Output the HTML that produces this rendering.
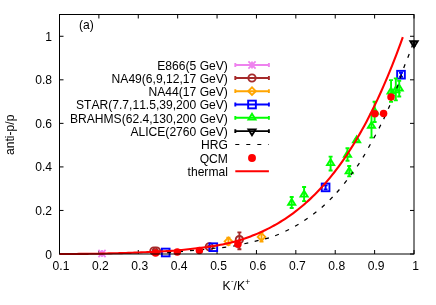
<!DOCTYPE html><html><head><meta charset="utf-8"><style>html,body{margin:0;padding:0;background:#fff}svg{display:block;will-change:transform;opacity:0.999}text{font-family:"Liberation Sans",sans-serif;font-size:12.1px;fill:#000;font-kerning:none}</style></head><body>
<svg width="436" height="305" viewBox="0 0 436 305">
<rect width="436" height="305" fill="#fff"/>
<path d="M59.50 254.0v-4M59.50 14.5v4M98.89 254.0v-4M98.89 14.5v4M138.28 254.0v-4M138.28 14.5v4M177.67 254.0v-4M177.67 14.5v4M217.06 254.0v-4M217.06 14.5v4M256.44 254.0v-4M256.44 14.5v4M295.83 254.0v-4M295.83 14.5v4M335.22 254.0v-4M335.22 14.5v4M374.61 254.0v-4M374.61 14.5v4M414.00 254.0v-4M414.00 14.5v4M59.5 254.00h4M414.0 254.00h-4M59.5 210.45h4M414.0 210.45h-4M59.5 166.91h4M414.0 166.91h-4M59.5 123.36h4M414.0 123.36h-4M59.5 79.82h4M414.0 79.82h-4M59.5 36.27h4M414.0 36.27h-4" stroke="#000" stroke-width="1" fill="none"/>
<text x="61.00" y="270.4" text-anchor="middle">0.1</text>
<text x="100.39" y="270.4" text-anchor="middle">0.2</text>
<text x="139.78" y="270.4" text-anchor="middle">0.3</text>
<text x="179.17" y="270.4" text-anchor="middle">0.4</text>
<text x="218.56" y="270.4" text-anchor="middle">0.5</text>
<text x="257.94" y="270.4" text-anchor="middle">0.6</text>
<text x="297.33" y="270.4" text-anchor="middle">0.7</text>
<text x="336.72" y="270.4" text-anchor="middle">0.8</text>
<text x="376.11" y="270.4" text-anchor="middle">0.9</text>
<text x="415.50" y="270.4" text-anchor="middle">1</text>
<text x="52" y="258.50" text-anchor="end">0</text>
<text x="52" y="214.95" text-anchor="end">0.2</text>
<text x="52" y="171.41" text-anchor="end">0.4</text>
<text x="52" y="127.86" text-anchor="end">0.6</text>
<text x="52" y="84.32" text-anchor="end">0.8</text>
<text x="52" y="40.77" text-anchor="end">1</text>
<text x="79" y="28.5">(a)</text>
<text transform="translate(14,134.8) rotate(-90)" text-anchor="middle">anti-p/p</text>
<text x="222.5" y="289.5">K</text><text x="230.9" y="282.8" style="font-size:8px">-</text><text x="233.5" y="289.5">/</text><text x="237.1" y="289.5">K</text><text x="245.3" y="285.3" style="font-size:8.5px">+</text>
<text x="227.9" y="69.75" text-anchor="end">E866(5 GeV)</text>
<text x="227.9" y="82.75" text-anchor="end">NA49(6,9,12,17 GeV)</text>
<text x="227.9" y="95.95" text-anchor="end">NA44(17 GeV)</text>
<text x="227.9" y="109.25" text-anchor="end">STAR(7.7,11.5,39,200 GeV)</text>
<text x="227.9" y="122.55" text-anchor="end">BRAHMS(62.4,130,200 GeV)</text>
<text x="227.9" y="135.90" text-anchor="end">ALICE(2760 GeV)</text>
<text x="227.9" y="149.25" text-anchor="end">HRG</text>
<text x="227.9" y="162.70" text-anchor="end">QCM</text>
<text x="227.9" y="176.00" text-anchor="end">thermal</text>
<path d="M235.3 65.00H268.9M235.3 63.10v3.8M268.9 63.10v3.8" stroke="#ee82ee" stroke-width="1.9" fill="none"/>
<path d="M248.40 65.00h7.2M252.00 61.40v7.2M248.40 61.40l7.2 7.2M248.40 68.60l7.2 -7.2" stroke="#ee82ee" stroke-width="1.8" fill="none"/>
<path d="M98.40 253.50h7.2M102.00 249.90v7.2M98.40 249.90l7.2 7.2M98.40 257.10l7.2 -7.2" stroke="#ee82ee" stroke-width="1.8" fill="none"/>
<path d="M235.3 78.00H268.9M235.3 76.10v3.8M268.9 76.10v3.8" stroke="#a52a2a" stroke-width="1.9" fill="none"/>
<circle cx="252.00" cy="78.00" r="3.65" stroke="#a52a2a" stroke-width="1.9" fill="none"/>
<path d="M153.90 250.30V251.70M151.90 250.30h4.0M151.90 251.70h4.0" stroke="#a52a2a" stroke-width="1.9" fill="none"/>
<circle cx="153.90" cy="251.00" r="3.65" stroke="#a52a2a" stroke-width="1.9" fill="none"/>
<path d="M156.50 250.30V251.70M154.50 250.30h4.0M154.50 251.70h4.0" stroke="#a52a2a" stroke-width="1.9" fill="none"/>
<circle cx="156.50" cy="251.00" r="3.65" stroke="#a52a2a" stroke-width="1.9" fill="none"/>
<path d="M209.30 246.00V247.60M207.30 246.00h4.0M207.30 247.60h4.0" stroke="#a52a2a" stroke-width="1.9" fill="none"/>
<circle cx="209.30" cy="246.80" r="3.65" stroke="#a52a2a" stroke-width="1.9" fill="none"/>
<path d="M239.40 232.40V249.30M237.40 232.40h4.0M237.40 249.30h4.0" stroke="#a52a2a" stroke-width="1.9" fill="none"/>
<circle cx="239.40" cy="239.60" r="3.65" stroke="#a52a2a" stroke-width="1.9" fill="none"/>
<path d="M235.3 91.20H268.9M235.3 89.30v3.8M268.9 89.30v3.8" stroke="#ffa500" stroke-width="1.9" fill="none"/>
<path d="M248.20 91.20L252.00 87.40L255.80 91.20L252.00 95.00Z" stroke="#ffa500" stroke-width="1.9" fill="none"/>
<path d="M228.40 237.80V244.80M226.40 237.80h4.0M226.40 244.80h4.0" stroke="#ffa500" stroke-width="1.9" fill="none"/>
<path d="M224.60 241.30L228.40 237.50L232.20 241.30L228.40 245.10Z" stroke="#ffa500" stroke-width="1.9" fill="none"/>
<path d="M261.50 232.60V241.60M259.50 232.60h4.0M259.50 241.60h4.0" stroke="#ffa500" stroke-width="1.9" fill="none"/>
<path d="M257.70 236.90L261.50 233.10L265.30 236.90L261.50 240.70Z" stroke="#ffa500" stroke-width="1.9" fill="none"/>
<path d="M235.3 104.50H268.9M235.3 102.60v3.8M268.9 102.60v3.8" stroke="#0000ff" stroke-width="1.9" fill="none"/>
<rect x="248.15" y="100.65" width="7.7" height="7.7" stroke="#0000ff" stroke-width="1.9" fill="none"/>
<rect x="161.85" y="248.65" width="7.7" height="7.7" stroke="#0000ff" stroke-width="1.9" fill="none"/>
<rect x="209.45" y="243.35" width="7.7" height="7.7" stroke="#0000ff" stroke-width="1.9" fill="none"/>
<path d="M325.60 185.40V189.40M323.60 185.40h4.0M323.60 189.40h4.0" stroke="#0000ff" stroke-width="1.9" fill="none"/>
<rect x="321.75" y="183.55" width="7.7" height="7.7" stroke="#0000ff" stroke-width="1.9" fill="none"/>
<path d="M401.00 72.70V76.70M399.00 72.70h4.0M399.00 76.70h4.0" stroke="#0000ff" stroke-width="1.9" fill="none"/>
<rect x="397.15" y="70.85" width="7.7" height="7.7" stroke="#0000ff" stroke-width="1.9" fill="none"/>
<path d="M235.3 117.80H268.9M235.3 115.90v3.8M268.9 115.90v3.8" stroke="#00ff00" stroke-width="1.9" fill="none"/>
<path d="M252.00 113.82L248.45 119.58H255.55Z" stroke="#00ff00" stroke-width="1.9" fill="none"/>
<path d="M291.70 197.00V208.00M289.70 197.00h4.0M289.70 208.00h4.0" stroke="#00ff00" stroke-width="1.9" fill="none"/>
<path d="M291.70 199.02L288.15 204.78H295.25Z" stroke="#00ff00" stroke-width="1.9" fill="none"/>
<path d="M304.10 187.00V201.10M302.10 187.00h4.0M302.10 201.10h4.0" stroke="#00ff00" stroke-width="1.9" fill="none"/>
<path d="M304.10 190.82L300.55 196.58H307.65Z" stroke="#00ff00" stroke-width="1.9" fill="none"/>
<path d="M330.60 156.60V170.50M328.60 156.60h4.0M328.60 170.50h4.0" stroke="#00ff00" stroke-width="1.9" fill="none"/>
<path d="M330.60 159.32L327.05 165.08H334.15Z" stroke="#00ff00" stroke-width="1.9" fill="none"/>
<path d="M349.20 166.00V176.40M347.20 166.00h4.0M347.20 176.40h4.0" stroke="#00ff00" stroke-width="1.9" fill="none"/>
<path d="M349.20 167.62L345.65 173.38H352.75Z" stroke="#00ff00" stroke-width="1.9" fill="none"/>
<path d="M347.50 148.30V160.70M345.50 148.30h4.0M345.50 160.70h4.0" stroke="#00ff00" stroke-width="1.9" fill="none"/>
<path d="M347.50 151.02L343.95 156.78H351.05Z" stroke="#00ff00" stroke-width="1.9" fill="none"/>
<path d="M356.60 139.00V142.00M354.60 139.00h4.0M354.60 142.00h4.0" stroke="#00ff00" stroke-width="1.9" fill="none"/>
<path d="M356.60 136.42L353.05 142.18H360.15Z" stroke="#00ff00" stroke-width="1.9" fill="none"/>
<path d="M371.50 114.40V137.60M369.50 114.40h4.0M369.50 137.60h4.0" stroke="#00ff00" stroke-width="1.9" fill="none"/>
<path d="M371.50 122.02L367.95 127.78H375.05Z" stroke="#00ff00" stroke-width="1.9" fill="none"/>
<path d="M374.60 101.80V122.00M372.60 101.80h4.0M372.60 122.00h4.0" stroke="#00ff00" stroke-width="1.9" fill="none"/>
<path d="M374.60 107.92L371.05 113.68H378.15Z" stroke="#00ff00" stroke-width="1.9" fill="none"/>
<path d="M391.05 80.10V101.90M389.05 80.10h4.0M389.05 101.90h4.0" stroke="#00ff00" stroke-width="1.9" fill="none"/>
<path d="M391.05 87.72L387.50 93.48H394.60Z" stroke="#00ff00" stroke-width="1.9" fill="none"/>
<path d="M395.80 78.40V100.40M393.80 78.40h4.0M393.80 100.40h4.0" stroke="#00ff00" stroke-width="1.9" fill="none"/>
<path d="M395.80 86.62L392.25 92.38H399.35Z" stroke="#00ff00" stroke-width="1.9" fill="none"/>
<path d="M399.20 80.70V96.50M397.20 80.70h4.0M397.20 96.50h4.0" stroke="#00ff00" stroke-width="1.9" fill="none"/>
<path d="M399.20 84.72L395.65 90.48H402.75Z" stroke="#00ff00" stroke-width="1.9" fill="none"/>
<path d="M235.3 131.15H268.9M235.3 129.25v3.8M268.9 129.25v3.8" stroke="#000" stroke-width="1.9" fill="none"/>
<path d="M252.00 135.13L248.45 129.38H255.55Z" stroke="#000" stroke-width="1.9" fill="none"/>
<path d="M414.00 41.80V45.60M412.20 41.80h3.6M412.20 45.60h3.6" stroke="#000" stroke-width="1.9" fill="none"/>
<path d="M414.00 47.24L410.30 41.25H417.70Z" stroke="#000" stroke-width="1.9" fill="none"/>
<path d="M235.3 144.50H268.9" stroke="#000" stroke-width="1" stroke-dasharray="4 7" fill="none"/>
<path d="M167.10 252.51L171.10 252.29M179.01 251.66L182.99 251.34M190.01 250.69L193.99 250.31M200.31 249.70L204.29 249.30M211.51 248.50L215.49 248.10M222.21 247.53L226.19 247.07M233.23 246.04L237.17 245.36M244.35 243.74L248.25 242.86M254.65 241.36L258.55 240.44M265.08 238.94L268.92 237.86M275.14 235.72L278.86 234.28M285.40 231.28L289.00 229.52M295.07 226.31L298.53 224.29M304.35 220.53L307.65 218.27M313.22 214.22L316.38 211.78M321.70 207.43L324.70 204.77M329.80 199.83L332.60 196.97M336.78 192.50L339.42 189.50M344.26 183.57L346.74 180.43M350.81 175.00L353.19 171.80M357.18 166.45L359.42 163.15M362.98 157.42L365.02 153.98M368.43 147.75L370.37 144.25M373.75 138.26L375.65 134.74M378.99 128.38L380.81 124.82M383.65 119.11L385.35 115.49M388.31 108.84L389.89 105.16M392.55 98.65L394.05 94.95M396.71 88.38L398.09 84.62M400.25 78.19L401.55 74.41M403.70 67.97L405.10 64.23M407.78 57.77L409.22 54.03M411.63 47.48L412.97 43.72" stroke="#000" stroke-width="1.25" fill="none"/>
<circle cx="252.00" cy="157.95" r="3.95" fill="#ff0000"/>
<circle cx="155.60" cy="252.90" r="3.75" fill="#ff0000"/>
<circle cx="177.30" cy="252.00" r="3.75" fill="#ff0000"/>
<circle cx="199.40" cy="250.40" r="3.75" fill="#ff0000"/>
<circle cx="237.90" cy="244.30" r="3.75" fill="#ff0000"/>
<circle cx="374.90" cy="113.80" r="3.75" fill="#ff0000"/>
<circle cx="383.60" cy="113.40" r="3.75" fill="#ff0000"/>
<circle cx="391.00" cy="96.90" r="3.75" fill="#ff0000"/>
<path d="M235.3 171.25H268.9" stroke="#ff0000" stroke-width="1.95" fill="none"/>
<path d="M59.50 254.00L61.65 254.00L63.79 253.99L65.94 253.99L68.08 253.98L70.23 253.97L72.37 253.96L74.52 253.95L76.67 253.94L78.81 253.92L80.96 253.91L83.10 253.89L85.25 253.87L87.39 253.85L89.54 253.82L91.69 253.80L93.83 253.77L95.98 253.74L98.12 253.71L100.27 253.67L102.41 253.60L104.56 253.53L106.71 253.47L108.85 253.42L111.00 253.37L113.14 253.31L115.29 253.26L117.43 253.21L119.58 253.15L121.73 253.09L123.87 253.03L126.02 252.97L128.16 252.90L130.31 252.83L132.45 252.75L134.60 252.66L136.75 252.58L138.89 252.49L141.04 252.40L143.18 252.31L145.33 252.22L147.47 252.13L149.62 252.04L151.77 251.95L153.91 251.86L156.06 251.75L158.20 251.65L160.35 251.53L162.49 251.41L164.64 251.28L166.79 251.15L168.93 251.01L171.08 250.85L173.22 250.70L175.37 250.53L177.51 250.35L179.66 250.17L181.81 249.97L183.95 249.77L186.10 249.55L188.24 249.32L190.39 249.08L192.53 248.83L194.68 248.57L196.83 248.31L198.97 248.05L201.12 247.78L203.26 247.52L205.41 247.24L207.55 246.95L209.70 246.65L211.85 246.33L213.99 245.99L216.14 245.64L218.28 245.25L220.43 244.84L222.57 244.41L224.72 243.96L226.87 243.49L229.01 243.00L231.16 242.49L233.30 241.95L235.45 241.37L237.59 240.76L239.74 240.12L241.89 239.43L244.03 238.72L246.18 237.98L248.32 237.22L250.47 236.42L252.61 235.59L254.76 234.74L256.91 233.85L259.05 232.93L261.20 231.98L263.34 230.99L265.49 229.97L267.63 228.91L269.78 227.81L271.93 226.68L274.07 225.51L276.22 224.30L278.36 223.04L280.51 221.75L282.65 220.41L284.80 219.03L286.95 217.61L289.09 216.13L291.24 214.62L293.38 213.05L295.53 211.43L297.67 209.76L299.82 208.05L301.97 206.27L304.11 204.45L306.26 202.57L308.40 200.63L310.55 198.63L312.69 196.58L314.84 194.47L316.99 192.29L319.13 190.05L321.28 187.75L323.42 185.38L325.57 182.94L327.71 180.43L329.86 177.86L332.01 175.21L334.15 172.49L336.30 169.70L338.44 166.83L340.59 163.88L342.73 160.85L344.88 157.75L347.03 154.56L349.17 151.28L351.32 147.92L353.46 144.48L355.61 140.94L357.75 137.32L359.90 133.60L362.05 129.79L364.19 125.89L366.34 121.88L368.48 117.78L370.63 113.58L372.77 109.27L374.92 104.86L377.07 100.34L379.21 95.71L381.36 90.98L383.50 86.13L385.65 81.16L387.79 76.08L389.94 70.88L392.09 65.56L394.23 60.12L396.38 54.55L398.52 48.86L400.67 43.04L402.81 37.08" stroke="#ff0000" stroke-width="2.1" fill="none" stroke-linecap="butt"/>
<rect x="59.5" y="14.5" width="354.5" height="239.5" stroke="#000" stroke-width="1" fill="none"/>
</svg></body></html>
